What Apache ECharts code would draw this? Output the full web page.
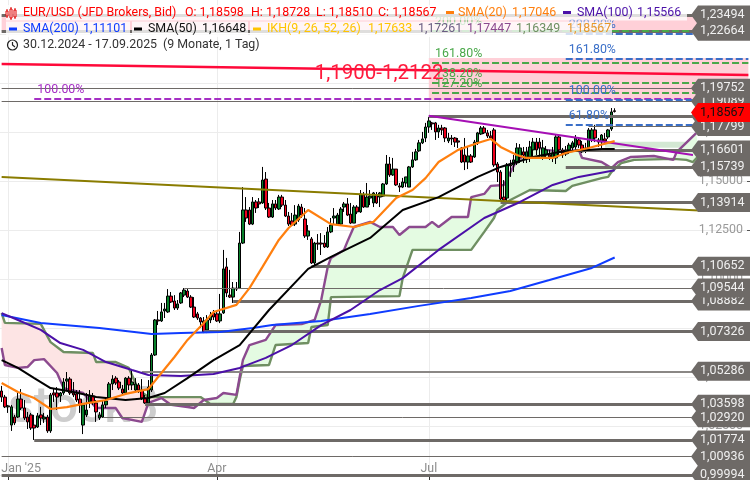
<!DOCTYPE html>
<html><head><meta charset="utf-8">
<style>html,body{margin:0;padding:0;background:#fff}#c{width:750px;height:480px}</style>
<script src="https://cdn.jsdelivr.net/npm/echarts@6/dist/echarts.min.js"></script>
</head><body><div id="c"></div>
<script>
// open, high, low, close for each trading day
const ohlc = [
[1.0428,1.0454,1.0372,1.0397],[1.0397,1.0408,1.0341,1.0347],[1.0347,1.0357,1.0316,1.0352],[1.0254,1.0357,1.0224,1.0347],[1.0295,1.0306,1.0254,1.0265],
[1.0295,1.0418,1.0290,1.0387],[1.0387,1.0438,1.0331,1.0341],[1.0341,1.0382,1.0280,1.0290],[1.0295,1.0321,1.0234,1.0270],[1.0306,1.0316,1.0229,1.0239],
[1.0254,1.0306,1.0178,1.0239],[1.0244,1.0316,1.0239,1.0301],[1.0306,1.0347,1.0254,1.0290],[1.0285,1.0316,1.0265,1.0295],[1.0295,1.0306,1.0214,1.0224],
[1.0224,1.0418,1.0214,1.0408],[1.0418,1.0443,1.0372,1.0408],[1.0418,1.0448,1.0331,1.0397],[1.0403,1.0423,1.0372,1.0418],[1.0418,1.0494,1.0408,1.0474],
[1.0479,1.0525,1.0433,1.0489],[1.0489,1.0499,1.0408,1.0418],[1.0418,1.0474,1.0397,1.0408],[1.0413,1.0433,1.0372,1.0382],[1.0387,1.0433,1.0316,1.0357],
[1.0254,1.0367,1.0208,1.0357],[1.0306,1.0418,1.0295,1.0331],[1.0372,1.0433,1.0341,1.0403],[1.0403,1.0418,1.0357,1.0372],[1.0367,1.0382,1.0270,1.0321],
[1.0290,1.0321,1.0280,1.0306],[1.0295,1.0382,1.0290,1.0357],[1.0357,1.0397,1.0341,1.0377],[1.0392,1.0474,1.0382,1.0464],[1.0464,1.0509,1.0433,1.0489],
[1.0494,1.0504,1.0459,1.0469],[1.0474,1.0484,1.0433,1.0443],[1.0438,1.0459,1.0408,1.0418],[1.0418,1.0499,1.0413,1.0494],[1.0494,1.0504,1.0433,1.0459],
[1.0459,1.0535,1.0433,1.0474],[1.0433,1.0494,1.0423,1.0464],[1.0459,1.0469,1.0418,1.0433],[1.0433,1.0489,1.0382,1.0392],[1.0392,1.0408,1.0362,1.0367],
[1.0367,1.0484,1.0362,1.0448],[1.0433,1.0622,1.0423,1.0612],[1.0612,1.0796,1.0607,1.0791],[1.0791,1.0837,1.0765,1.0786],[1.0786,1.0878,1.0781,1.0832],
[1.0837,1.0878,1.0801,1.0847],[1.0832,1.0949,1.0827,1.0913],[1.0913,1.0934,1.0878,1.0883],[1.0888,1.0918,1.0842,1.0852],[1.0852,1.0893,1.0842,1.0873],
[1.0878,1.0934,1.0873,1.0929],[1.0918,1.0954,1.0908,1.0944],[1.0939,1.0954,1.0903,1.0908],[1.0908,1.0918,1.0852,1.0857],[1.0857,1.0908,1.0801,1.0806],
[1.0822,1.0832,1.0791,1.0801],[1.0801,1.0806,1.0750,1.0781],[1.0786,1.0806,1.0724,1.0730],[1.0740,1.0816,1.0724,1.0791],[1.0791,1.0832,1.0775,1.0816],
[1.0827,1.0842,1.0791,1.0806],[1.0822,1.0832,1.0781,1.0786],[1.0786,1.0924,1.0775,1.0822],[1.0827,1.1149,1.0822,1.1052],[1.1062,1.1108,1.0908,1.0929],
[1.0918,1.1047,1.0903,1.0908],[1.0908,1.0985,1.0878,1.0954],[1.0954,1.0985,1.0939,1.0949],[1.0954,1.1241,1.0949,1.1184],[1.1184,1.1470,1.1179,1.1353],
[1.1353,1.1419,1.1292,1.1312],[1.1353,1.1368,1.1276,1.1281],[1.1281,1.1419,1.1276,1.1394],[1.1394,1.1404,1.1338,1.1363],[1.1394,1.1414,1.1363,1.1384],
[1.1389,1.1573,1.1384,1.1506],[1.1511,1.1547,1.1353,1.1363],[1.1363,1.1389,1.1312,1.1317],[1.1317,1.1404,1.1312,1.1384],[1.1384,1.1404,1.1353,1.1363],
[1.1358,1.1430,1.1353,1.1419],[1.1419,1.1430,1.1368,1.1378],[1.1378,1.1404,1.1317,1.1322],[1.1322,1.1343,1.1271,1.1281],[1.1297,1.1338,1.1271,1.1276],
[1.1281,1.1378,1.1271,1.1327],[1.1302,1.1384,1.1292,1.1373],[1.1368,1.1384,1.1312,1.1327],[1.1307,1.1363,1.1210,1.1220],[1.1220,1.1276,1.1200,1.1246],
[1.1205,1.1215,1.1077,1.1082],[1.1082,1.1190,1.1067,1.1184],[1.1184,1.1230,1.1149,1.1179],[1.1184,1.1235,1.1123,1.1179],[1.1184,1.1225,1.1159,1.1164],
[1.1164,1.1266,1.1159,1.1241],[1.1241,1.1312,1.1235,1.1276],[1.1312,1.1363,1.1276,1.1322],[1.1281,1.1338,1.1276,1.1327],[1.1281,1.1368,1.1276,1.1358],
[1.1368,1.1394,1.1343,1.1384],[1.1384,1.1414,1.1322,1.1327],[1.1332,1.1389,1.1281,1.1286],[1.1286,1.1378,1.1286,1.1368],[1.1368,1.1378,1.1332,1.1343],
[1.1343,1.1455,1.1338,1.1435],[1.1430,1.1445,1.1363,1.1368],[1.1368,1.1491,1.1368,1.1419],[1.1414,1.1455,1.1378,1.1424],[1.1389,1.1445,1.1368,1.1440],
[1.1430,1.1445,1.1384,1.1389],[1.1419,1.1445,1.1368,1.1440],[1.1424,1.1491,1.1419,1.1486],[1.1486,1.1634,1.1481,1.1588],[1.1588,1.1624,1.1522,1.1532],
[1.1532,1.1619,1.1527,1.1562],[1.1562,1.1562,1.1476,1.1481],[1.1476,1.1491,1.1445,1.1470],[1.1470,1.1517,1.1465,1.1496],[1.1491,1.1522,1.1470,1.1522],
[1.1470,1.1578,1.1470,1.1573],[1.1573,1.1650,1.1568,1.1609],[1.1609,1.1665,1.1604,1.1650],[1.1655,1.1711,1.1650,1.1696],[1.1696,1.1752,1.1690,1.1716],
[1.1721,1.1798,1.1700,1.1777],[1.1777,1.1828,1.1747,1.1808],[1.1798,1.1803,1.1762,1.1793],[1.1798,1.1803,1.1711,1.1752],[1.1752,1.1788,1.1721,1.1772],
[1.1772,1.1788,1.1736,1.1762],[1.1772,1.1777,1.1700,1.1721],[1.1706,1.1747,1.1695,1.1721],[1.1721,1.1736,1.1685,1.1716],[1.1721,1.1726,1.1675,1.1700],
[1.1706,1.1721,1.1670,1.1700],[1.1670,1.1675,1.1593,1.1598],[1.1634,1.1721,1.1557,1.1598],[1.1598,1.1675,1.1562,1.1629],[1.1629,1.1639,1.1593,1.1598],
[1.1624,1.1711,1.1619,1.1700],[1.1700,1.1752,1.1685,1.1747],[1.1741,1.1782,1.1736,1.1772],[1.1772,1.1782,1.1741,1.1747],[1.1747,1.1762,1.1721,1.1731],
[1.1731,1.1757,1.1711,1.1721],[1.1762,1.1772,1.1573,1.1583],[1.1588,1.1598,1.1496,1.1547],[1.1547,1.1557,1.1404,1.1409],[1.1419,1.1506,1.1399,1.1404],
[1.1414,1.1593,1.1399,1.1583],[1.1583,1.1609,1.1522,1.1578],[1.1583,1.1634,1.1547,1.1609],[1.1593,1.1695,1.1583,1.1670],[1.1624,1.1690,1.1593,1.1670],
[1.1650,1.1675,1.1593,1.1634],[1.1619,1.1675,1.1593,1.1650],[1.1624,1.1706,1.1598,1.1675],[1.1660,1.1721,1.1624,1.1700],[1.1700,1.1721,1.1634,1.1660],
[1.1700,1.1721,1.1619,1.1670],[1.1624,1.1711,1.1609,1.1670],[1.1634,1.1680,1.1619,1.1660],[1.1634,1.1660,1.1609,1.1624],[1.1619,1.1675,1.1598,1.1644],
[1.1619,1.1736,1.1588,1.1726],[1.1726,1.1736,1.1634,1.1660],[1.1660,1.1670,1.1619,1.1634],[1.1639,1.1680,1.1629,1.1660],[1.1660,1.1696,1.1639,1.1685],
[1.1670,1.1706,1.1650,1.1696],[1.1675,1.1736,1.1660,1.1721],[1.1711,1.1726,1.1670,1.1685],[1.1685,1.1706,1.1644,1.1650],[1.1670,1.1696,1.1644,1.1660],
[1.1670,1.1772,1.1660,1.1762],[1.1711,1.1772,1.1700,1.1762],[1.1762,1.1788,1.1700,1.1721],[1.1711,1.1721,1.1675,1.1700],[1.1700,1.1741,1.1660,1.1736],
[1.1716,1.1746,1.1695,1.1706],[1.1726,1.1767,1.1716,1.1762],[1.1767,1.1874,1.1757,1.1854],[1.18598,1.18728,1.18510,1.18567]
];
// [bar index, value]
const sma200 = [[0,1.0816],[12,1.0776],[30,1.0750],[46,1.0719],[55,1.0724],[67,1.0729],[77,1.0750],[83,1.0765],[98,1.0786],[113,1.0822],[128,1.0863],[144,1.0903],[156,1.0939],[168,1.0995],[181,1.1057],[188,1.11101]];
const sma100 = [[0,1.0826],[5,1.0791],[12,1.0740],[18,1.0673],[25,1.0638],[32,1.0576],[40,1.0535],[45,1.0510],[55,1.0505],[65,1.0515],[73,1.0546],[81,1.0597],[89,1.0663],[98,1.0765],[107,1.0842],[116,1.0944],[123,1.1005],[134,1.1149],[148,1.1312],[159,1.1394],[169,1.1481],[177,1.1522],[188,1.15566]];
const sma50 = [[0,1.0586],[5,1.0546],[10,1.0494],[15,1.0443],[22,1.0423],[29,1.0397],[38,1.0382],[45,1.0392],[50,1.0418],[57,1.0494],[65,1.0586],[73,1.0663],[82,1.0842],[94,1.1052],[101,1.1113],[113,1.1210],[123,1.1353],[134,1.1419],[146,1.1522],[153,1.1573],[163,1.1624],[171,1.1649],[184,1.1665],[188,1.16648]];
const sma20 = [[0,1.0469],[5,1.0423],[10,1.0392],[15,1.0336],[20,1.0346],[25,1.0362],[32,1.0382],[38,1.0413],[45,1.0438],[49,1.0520],[53,1.0602],[57,1.0689],[62,1.0776],[65,1.0832],[72,1.0868],[76,1.0954],[80,1.1062],[85,1.1200],[88,1.1261],[94,1.1353],[101,1.1281],[108,1.1266],[114,1.1292],[121,1.1414],[126,1.1455],[130,1.1516],[134,1.1598],[140,1.1660],[146,1.1695],[150,1.1716],[153,1.1675],[158,1.1634],[161,1.1619],[169,1.1619],[173,1.1644],[180,1.1670],[188,1.17046]];
const spanA = [[0,1.0648],[1,1.0561],[5,1.0546],[8,1.0551],[10,1.0586],[13,1.0591],[17,1.0520],[19,1.0443],[25,1.0418],[29,1.0341],[35,1.0341],[37,1.0290],[43,1.0270],[45,1.0367],[49,1.0392],[52,1.0357],[57,1.0346],[59,1.0341],[62,1.0382],[66,1.0392],[68,1.0418],[72,1.0408],[73,1.0500],[74,1.0586],[76,1.0663],[81,1.0689],[84,1.0765],[92,1.0770],[96,1.0791],[98,1.0893],[100,1.1062],[101,1.1108],[105,1.1149],[106,1.1190],[108,1.1266],[113,1.1292],[116,1.1266],[120,1.1266],[122,1.1225],[125,1.1266],[130,1.1266],[132,1.1292],[134,1.1266],[138,1.1317],[143,1.1317],[144,1.1419],[148,1.1435],[150,1.1476],[154,1.1481],[158,1.1609],[161,1.1634],[162,1.1670],[164,1.1675],[167,1.1660],[172,1.1649],[177,1.1660],[178,1.1619],[184,1.1598],[187,1.1567],[189,1.1598],[193,1.1624],[200,1.1629],[203,1.1619],[206,1.1609],[207,1.1649],[213,1.1746]];
const spanB = [[0,1.0826],[1,1.0776],[12,1.0771],[15,1.0678],[19,1.0627],[28,1.0622],[29,1.0576],[35,1.0576],[39,1.0546],[42,1.0433],[45,1.0397],[51,1.0397],[61,1.0397],[64,1.0362],[71,1.0362],[72,1.0397],[73,1.0484],[74,1.0556],[82,1.0561],[84,1.0663],[94,1.0673],[95,1.0755],[100,1.0765],[101,1.0908],[122,1.0913],[123,1.1005],[126,1.1149],[144,1.1149],[148,1.1241],[151,1.1312],[152,1.1353],[156,1.1404],[162,1.1455],[173,1.1450],[175,1.1476],[184,1.1516],[186,1.1522],[187,1.1547],[190,1.1593],[194,1.1609],[206,1.1614],[210,1.1609],[212,1.1598],[214,1.1634]];
const cloudTurn = 62;
// [start bar, value, weight]
const levels = [[0,1.23494,3],[0,1.22664,3],[0,1.19752,1],[0,1.19089,1],[131,1.18333,3],[180,1.17799,1],[176,1.16601,3],[173,1.15739,3],[153,1.13914,3],[95,1.10652,3],[56,1.09544,1],[71,1.08882,3],[62,1.07326,3],[43,1.05286,2],[44,1.03598,3],[31,1.02920,1],[10,1.01774,3],[0,1.00936,1],[0,0.99994,3]];
const priceTags = [0.99994,1.00936,1.01774,1.03598,1.02920,1.05286,1.07326,1.08882,1.09544,1.10652,1.13914,1.15739,1.16601,1.19089,1.18333,1.17799,1.19752,1.22664,1.23494];
const lastPrice = 1.18567;
const fibGreen = [[1.2268,'200.00%'],[1.2104,'161.80%'],[1.2002,'138.20%'],[1.1951,'127.20%']];
const fibBlue = [[1.2252,'200.00%'],[1.2125,'161.80%'],[1.1915,'100.00%'],[1.1787,'61.80%']];
const fibPurple = [[1.1920,'100.00%']];
const zones = [[0,229,1.22664,1.23494],[131,229,1.1915,1.2130]];
const cloudBand = [185,211,1.1671,1.1702];
const redTrend = [[0,1.2099],[229,1.2043]];
const oliveTrend = [[0,1.1522],[214,1.1350]];
const purpleTrend = [[131,1.1834],[212,1.1634]];
const yTicks = [1.0,1.025,1.05,1.075,1.1,1.125,1.15,1.175,1.2,1.225];
const xTickLabels = {2:"Jan '25",66:'Apr',131:'Jul'};
const barCount = 230;
const categories = [];
for (let i=0;i<barCount;i++) categories.push(xTickLabels[i]||String(i));

const fmt = v => v.toFixed(5).replace('.',',');
const FONT = 'Roboto, sans-serif';
const TAG = '#6e6a67';
const isTick = i => xTickLabels[i]!==undefined;

const levelLines = levels.map(l=>[
  {xAxis:l[0],yAxis:l[1],lineStyle:{color:l[2]===2?'#8a8785':TAG,width:l[2],type:'solid'}},
  {xAxis:215,yAxis:l[1]}]);
const fibLines = (arr,start,color)=>arr.map(f=>[
  {xAxis:start,yAxis:f[0],lineStyle:{color,width:2.2,type:[7,3]},
   label:{show:true,formatter:f[1],position:'insideStartTop',distance:[3,3],color,fontSize:12.4,fontFamily:FONT}},
  {xAxis:229,yAxis:f[0]}]);
const seg = (t,color,w)=>[
  {xAxis:t[0][0],yAxis:t[0][1],lineStyle:{color,width:w,type:'solid'}},
  {xAxis:t[1][0],yAxis:t[1][1]}];
const lineS = (name,data,color,z,w)=>({name,type:'line',data,symbol:'none',smooth:false,z:z,silent:true,
  lineStyle:{color,width:w||2},itemStyle:{color},animation:false});
const helper = (name,z,extra)=>Object.assign({name,type:'line',data:[],symbol:'none',z,silent:true,animation:false},extra);

const cloudPoly = (a,b,fill)=>({type:'custom',coordinateSystem:'cartesian2d',silent:true,z:1,animation:false,
  data:[0],clip:false,
  renderItem:(p,api)=>({type:'polygon',shape:{points:a.concat(b.slice().reverse()).map(q=>api.coord(q))},style:{fill,stroke:null}})});

const option = {
  animation:false,
  backgroundColor:'#fff',
  grid:{left:0,right:0,top:0,bottom:0,containLabel:false,outerBoundsMode:'none'},
  xAxis:{type:'category',data:categories,boundaryGap:true,z:0,
    axisLine:{show:false},
    axisTick:{show:true,inside:true,length:3,alignWithLabel:true,interval:i=>isTick(i),lineStyle:{color:'#333'}},
    axisLabel:{show:true,inside:true,interval:i=>isTick(i),margin:5,color:'#8c8c8c',fontSize:12.4,fontFamily:FONT,hideOverlap:false,
      formatter:(v,i)=>i===2?"{j|"+v+"}":v,rich:{j:{padding:[0,0,0,26],color:'#8c8c8c',fontSize:12.4,fontFamily:FONT}}},
    splitLine:{show:true,alignWithLabel:true,interval:i=>isTick(i),lineStyle:{color:'#ececec',width:1}}},
  yAxis:{type:'value',position:'right',min:0.99733,max:1.2426,scale:true,z:0,
    axisLine:{show:false},
    axisTick:{show:true,inside:true,length:3,customValues:yTicks,lineStyle:{color:'#555'}},
    axisLabel:{inside:true,margin:7,color:'#9a9a9a',fontSize:12.4,fontFamily:FONT,customValues:yTicks,formatter:v=>fmt(v)},
    splitLine:{show:true,lineStyle:{color:'#ececec',width:1}}},
  series:[
    helper('zones',1,{markArea:{silent:true,itemStyle:{color:'#ffd0d8'},
      data:zones.map(z=>[{xAxis:z[0],yAxis:z[3]},{xAxis:z[1],yAxis:z[2]}]).concat([[{xAxis:cloudBand[0],yAxis:cloudBand[3],itemStyle:{color:'#d3e8d3'}},{xAxis:cloudBand[1],yAxis:cloudBand[2]}]])}}),
    cloudPoly(spanA.filter(q=>q[0]<=cloudTurn),spanB.filter(q=>q[0]<=cloudTurn),'#fde4e4'),
    cloudPoly(spanA.filter(q=>q[0]>=cloudTurn),spanB.filter(q=>q[0]>=cloudTurn-1),'#e4fbe2'),
    helper('levels',2,{markLine:{silent:true,symbol:'none',label:{show:false},animation:false,data:levelLines}}),
    lineS('Span B',spanB,'#6f8f62',3,2.4),
    lineS('Span A',spanA,'#8c4a8f',3,2.4),
    {name:'EUR/USD',type:'candlestick',z:4,silent:true,animation:false,barWidth:3,
      data:ohlc.map(r=>[r[0],r[3],r[2],r[1]]),
      itemStyle:{color:'#07802a',color0:'#f0001c',borderColor:'#000',borderColor0:'#000',borderWidth:1,borderColorDoji:'#000'}},
    lineS('SMA(200)',sma200,'#0f3cff',5,2),
    lineS('SMA(100)',sma100,'#4b10a8',5,2),
    lineS('SMA(50)',sma50,'#000000',5,2),
    lineS('SMA(20)',sma20,'#ff7f0e',5,2.2),
    helper('trends',6,{markLine:{silent:true,symbol:'none',label:{show:false},animation:false,
      data:[seg(redTrend,'#ff0a3a',2.5),seg(oliveTrend,'#8a7c00',2),seg(purpleTrend,'#a50fb4',2)]}}),
    helper('fibs',6,{markLine:{silent:true,symbol:'none',animation:false,
      data:fibLines(fibPurple,10,'#a52fc4').concat(fibLines(fibGreen,132,'#4aa84a'),fibLines(fibBlue,173,'#3a6fc8'))}}),
    {type:'custom',coordinateSystem:'cartesian2d',silent:true,z:7,animation:false,clip:false,
      data:[[96,1.2048,'1,1900-1,2122']],
      renderItem:(p,api)=>{const c=api.coord([api.value(0),api.value(1)]);
        return {type:'text',style:{text:'1,1900-1,2122',x:c[0],y:c[1],fill:'#ff1a3c',font:'20.5px '+FONT,align:'left',verticalAlign:'middle'}};}},
    {type:'custom',coordinateSystem:'cartesian2d',silent:true,z:20,animation:false,clip:false,
      encode:{y:1},data:priceTags.map(v=>[0,v]).concat([[1,lastPrice]]),
      renderItem:(p,api)=>{
        const v=api.value(1),last=api.value(0)===1,y=api.coord([0,v])[1]+(last?1:0),W=api.getWidth();
        return {type:'group',children:[
          {type:'polygon',shape:{points:[[W-59,y],[W-52,y-9.5],[W,y-9.5],[W,y+9.5],[W-52,y+9.5]]},style:{fill:last?'#ff0000':TAG}},
          {type:'text',style:{text:fmt(v),x:W-50,y:y,fill:last?'#111':'#f0f0f0',font:'12.5px '+FONT,align:'left',verticalAlign:'middle'}}
        ]};}}
  ],
  graphic:{elements:[
    {type:'text',z:-1,silent:true,style:{text:'stock3',x:8,y:409,fill:'#cdcdcd',font:'500 50px '+FONT,verticalAlign:'middle'}}
  ].concat(legendItems())}
};

function legendItems(){
  const row1=12.5,row2=29,row3=45;
  const out=[];
  const box=(x,y,w,h)=>out.push({type:'rect',z:29,silent:true,shape:{x,y,width:w,height:h},style:{fill:'rgba(255,255,255,0.78)'}});
  box(6,5,681,15.5); box(6,21.5,124,15.5); box(132,21.5,116,15.5); box(250,21.5,362,15.5);
  const t=(txt,x,y,c)=>out.push({type:'text',z:30,silent:true,style:{text:txt,x,y,fill:c,font:'12.4px '+FONT,verticalAlign:'middle'}});
  const dash=(x,y,c)=>out.push({type:'rect',z:31,silent:true,shape:{x,y:y-1.5,width:8,height:3},style:{fill:c}});
  [[6,11,16],[10,9,18],[14,10,17]].forEach(r=>{
    out.push({type:'line',z:31,silent:true,shape:{x1:r[0]+1,y1:r[1]-2,x2:r[0]+1,y2:r[2]+2},style:{stroke:'#e00000',lineWidth:1}});
    out.push({type:'rect',z:31,silent:true,shape:{x:r[0],y:r[1],width:2,height:r[2]-r[1]},style:{fill:'#fff',stroke:'#e00000',lineWidth:1}});
  });
  t('EUR/USD (JFD Brokers, Bid)',23,row1,'#ff0000');
  t('O: 1,18598',185,row1,'#ff0000');
  t('H: 1,18728',251,row1,'#ff0000');
  t('L: 1,18510',316,row1,'#ff0000');
  t('C: 1,18567',378,row1,'#ff0000');
  dash(446,row1,'#ff7f0e');
  t('SMA(20)',458,row1,'#ff7f0e');
  t('1,17046',512,row1,'#ff7f0e');
  dash(563,row1,'#4b10a8');
  t('SMA(100)',577,row1,'#4b10a8');
  t('1,15566',637,row1,'#4b10a8');
  dash(9,row2,'#0f3cff');
  t('SMA(200)',23,row2,'#0f3cff');
  t('1,11101',83,row2,'#0f3cff');
  dash(134,row2,'#000');
  t('SMA(50)',148,row2,'#111');
  t('1,16648',202,row2,'#111');
  dash(253,row2,'#ffc400');
  t('IKH(9, 26, 52, 26)',267,row2,'#ffc400');
  t('1,17633',368,row2,'#ffc400');
  t('1,17261',418,row2,'#6a5d82');
  t('1,17447',467,row2,'#8c4a8f');
  t('1,16349',516,row2,'#6f8f62');
  t('1,18567',567,row2,'#e8962a');
  out.push({type:'circle',z:31,silent:true,shape:{cx:12.5,cy:row3,r:5},style:{fill:'none',stroke:'#222',lineWidth:1.2}});
  out.push({type:'polyline',z:31,silent:true,shape:{points:[[12.5,row3-3],[12.5,row3],[15,row3+2]]},style:{fill:'none',stroke:'#222',lineWidth:1.2}});
  t('30.12.2024 - 17.09.2025',23,row3,'#333');
  t('(9 Monate, 1 Tag)',163,row3,'#333');
  return out;
}

const chart = echarts.init(document.getElementById('c'),null,{renderer:'canvas'});
chart.setOption(option);
</script></body></html>
